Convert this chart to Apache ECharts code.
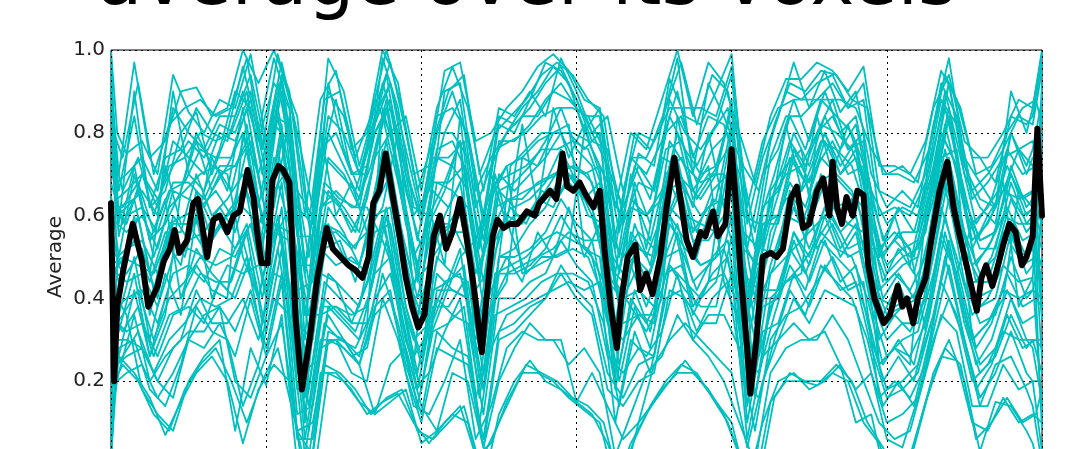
<!DOCTYPE html>
<html>
<head>
<meta charset="utf-8">
<script src="https://cdn.jsdelivr.net/npm/echarts@6/dist/echarts.min.js"></script>
<style>
  html, body { margin: 0; padding: 0; background: #fff; }
  #chart { width: 1088px; height: 449px; }
</style>
</head>
<body>
<div id="chart"></div>
<script>
// sample times of the first group of voxel traces
var sampleTimes = [0, 2,
  5, 10, 15, 20, 25, 30, 35, 40, 45, 50,
  55, 60, 65, 70, 75, 80, 85, 90, 95, 100,
  105, 110, 115, 120, 125, 130, 135, 140, 145, 150,
  155, 160, 165, 170, 175, 180, 185, 190, 195, 200,
  205, 210, 215, 220, 225, 230, 235, 240, 245, 250,
  255, 260, 265, 270, 275, 280, 285, 290, 295,
  297, 300];

// sample times of the second group
var sampleTimesB = [0,
  2.5, 7.5, 12.5, 17.5, 22.5, 27.5, 32.5, 37.5, 42.5, 47.5,
  52.5, 57.5, 62.5, 67.5, 72.5, 77.5, 82.5, 87.5, 92.5, 97.5,
  102.5, 107.5, 112.5, 117.5, 122.5, 127.5, 132.5, 137.5, 142.5, 147.5,
  152.5, 157.5, 162.5, 167.5, 172.5, 177.5, 182.5, 187.5, 192.5, 197.5,
  202.5, 207.5, 212.5, 217.5, 222.5, 227.5, 232.5, 237.5, 242.5, 247.5,
  252.5, 257.5, 262.5, 267.5, 272.5, 277.5, 282.5, 287.5, 292.5,
  297, 300];

// sample times of the third group
var sampleTimesC = [0,
  3.75, 8.75, 13.75, 18.75, 23.75, 28.75, 33.75, 38.75, 43.75, 48.75,
  53.75, 58.75, 63.75, 68.75, 73.75, 78.75, 83.75, 88.75, 93.75, 98.75,
  103.75, 108.75, 113.75, 118.75, 123.75, 128.75, 133.75, 138.75, 143.75, 148.75,
  153.75, 158.75, 163.75, 168.75, 173.75, 178.75, 183.75, 188.75, 193.75, 198.75,
  203.75, 208.75, 213.75, 218.75, 223.75, 228.75, 233.75, 238.75, 243.75, 248.75,
  253.75, 258.75, 263.75, 268.75, 273.75, 278.75, 283.75, 288.75, 293.75,
  298, 300];

// voxel traces, group A
var v01 = [1.0, .80, .75,.78,.70,.94,.85,.80,.88,.86,.99,.78, .97,.80,.62,.98,.90,.72,.86,.97,.80,.62, .80,.90,.78,.58,.82,.80,.88,.97,.95,.88, .78,.76,.60,.75,.72,.93,.84,.82,.90,.99, .58,.74,.84,.97,.86,.95,.85,.90,.70,.62, .66,.62,.82,.98,.74,.68,.62,.90,.80, .86, 1.0];
var v02 = [0.0, .30, .30,.28,.20,.16,.30,.36,.38,.20,.16,.26, .34,.08,.02,.30,.30,.24,.12,.24,.28,.14, .08,.22,.20,.04,.20,.28,.34,.30,.30,.15, .22,.14,.06,.10,.24,.30,.34,.30,.26,.22, .04,.20,.30,.34,.30,.32,.24,.18,.22,.06, .04,.16,.30,.40,.30,.14,.24,.26,.18, .14, 0.0];
var v03 = [.85, .64, .66,.70,.62,.78,.74,.70,.80,.78,.88,.70, .90,.55,.55,.80,.72,.64,.80,.86,.66,.52, .74,.72,.66,.44,.70,.66,.70,.74,.80,.72, .68,.52,.46,.52,.50,.72,.66,.60,.64,.82, .36,.58,.58,.74,.66,.78,.70,.76,.58,.48, .52,.54,.68,.86,.64,.54,.56,.72,.62, .64, .85];
var v04 = [.15, .34, .32,.34,.26,.36,.38,.34,.44,.40,.50,.32, .52,.12,.14,.38,.34,.30,.46,.50,.30,.18, .40,.36,.34,.12,.40,.40,.44,.46,.54,.48, .44,.26,.22,.28,.26,.48,.42,.38,.38,.55, .10,.32,.34,.46,.38,.48,.42,.44,.28,.16, .18,.22,.36,.54,.36,.24,.28,.40,.30, .28, .15];
var v05 = [.70, .68, .70,.74,.66,.86,.80,.76,.84,.84,.94,.76, .94,.66,.60,.90,.84,.70,.82,.92,.72,.58, .76,.78,.70,.50,.66,.62,.64,.68,.76,.68, .62,.44,.40,.42,.38,.60,.54,.48,.50,.66, .22,.40,.40,.54,.44,.54,.44,.48,.30,.18, .20,.24,.36,.52,.34,.22,.26,.36,.28, .30, .30];
var v06 = [.30, .20, .22,.24,.16,.22,.30,.28,.34,.26,.40,.26, .44,.06,.06,.32,.30,.26,.40,.46,.30,.18, .42,.42,.40,.18,.50,.52,.58,.62,.70,.66, .62,.48,.44,.52,.50,.72,.68,.64,.70,.86, .40,.62,.66,.80,.72,.84,.76,.82,.64,.52, .56,.56,.72,.92,.70,.62,.58,.80,.70, .74, .72];
var v07 = [.60, .58, .56,.60,.52,.66,.64,.62,.70,.72,.80,.60, .82,.42,.44,.66,.62,.56,.74,.80,.58,.44, .68,.66,.62,.38,.66,.68,.72,.78,.86,.76, .72,.56,.50,.56,.52,.78,.72,.68,.70,.88, .38,.60,.60,.76,.68,.80,.70,.74,.54,.44, .48,.50,.64,.84,.62,.52,.52,.68,.58, .60, .60];
var v08 = [.40, .38, .40,.42,.34,.46,.48,.44,.52,.50,.58,.42, .62,.22,.24,.46,.42,.38,.56,.58,.38,.26, .50,.46,.44,.22,.50,.50,.52,.56,.64,.58, .54,.36,.34,.36,.34,.58,.52,.48,.50,.66, .20,.42,.42,.56,.48,.60,.50,.56,.38,.26, .30,.32,.46,.64,.44,.34,.36,.50,.40, .42, .40];
var v09 = [.95, .46, .44,.46,.38,.50,.52,.50,.58,.62,.72,.56, .78,.48,.48,.74,.70,.62,.80,.88,.70,.60, .84,.86,.80,.60,.84,.82,.86,.92,.96,.88, .80,.72,.62,.72,.66,.84,.76,.70,.72,.86, .36,.52,.50,.62,.52,.62,.52,.58,.40,.30, .34,.34,.50,.70,.48,.38,.40,.56,.46, .48, .92];
var v10 = [.05, .50, .52,.54,.46,.58,.58,.52,.58,.52,.58,.40, .56,.18,.20,.36,.30,.24,.38,.42,.22,.10, .28,.26,.24,.04,.30,.32,.36,.40,.48,.42, .38,.22,.16,.24,.26,.48,.44,.40,.44,.60, .14,.38,.40,.56,.50,.62,.56,.60,.44,.34, .38,.40,.56,.74,.56,.46,.50,.64,.56, .58, .08];
var v11 = [.75, .60, .62,.66,.60,.90,.70,.66,.76,.90,.86,.66, .94,.84,.50,.92,.76,.66,.88,.80,.84,.66, .86,.96,.86,.66,.86,.84,.90,.84,.98,.90, .80,.84,.66,.80,.78,.86,.86,.86,.84,.96, .62,.78,.86,.88,.88,.88,.88,.86,.76,.70, .72,.68,.86,.94,.78,.74,.68,.84,.82, .84, .97];
var v12 = [.20, .40, .36,.18,.12,.08,.20,.26,.30,.08,.28,.19, .36,.00,-.05,.22,.20,.15,.12,.15,.18,.05, .08,.12,.10,-.05,.12,.20,.25,.20,.18,.15, .12,.05,-.05,.10,.15,.20,.25,.20,.15,.10, -.05,.10,.20,.22,.18,.20,.24,.10,.12,-.05, -.05,.08,.22,.30,.20,.03,.15,.14,.08, .05, -.05];
var v13 = [.55, .62, .60,.62,.56,.68,.68,.64,.72,.72,.78,.60, .80,.40,.40,.62,.56,.48,.60,.62,.38,.24, .46,.42,.40,.18,.46,.46,.48,.52,.60,.54, .50,.34,.30,.36,.36,.62,.58,.56,.60,.80, .34,.58,.60,.76,.68,.80,.72,.78,.58,.46, .50,.52,.66,.84,.64,.54,.56,.70,.60, .62, .55];
var v14 = [.45, .48, .46,.52,.40,.60,.54,.56,.62,.56,.70,.48, .68,.34,.30,.58,.50,.48,.62,.70,.46,.36, .56,.58,.50,.32,.56,.60,.60,.66,.72,.68, .60,.46,.40,.48,.42,.68,.60,.58,.56,.76, .28,.50,.52,.64,.58,.68,.58,.66,.46,.36, .38,.42,.54,.72,.52,.44,.44,.58,.50, .52, .45];
var v15 = [.90, .62, .58,.70,.64,.72,.78,.74,.82,.80,.90,.74, .92,.62,.58,.84,.80,.70,.84,.92,.76,.60, .80,.80,.74,.54,.78,.78,.82,.88,.92,.86, .76,.68,.58,.68,.66,.88,.80,.76,.82,.94, .52,.70,.76,.88,.78,.90,.80,.84,.66,.58, .62,.60,.76,.92,.72,.64,.62,.80,.72, .76, .88];
var v16 = [.10, .24, .26,.28,.20,.28,.32,.32,.38,.32,.42,.28, .46,.08,.10,.30,.28,.24,.36,.40,.24,.12, .32,.28,.26,.06,.32,.34,.38,.40,.46,.40, .36,.18,.14,.20,.22,.42,.40,.34,.34,.46, .06,.26,.30,.40,.34,.42,.40,.38,.22,.10, .12,.16,.32,.48,.30,.16,.22,.32,.22, .20, .20];

// voxel traces, group B
var w01 = [.98, .58,.90,.62,.66,.80,.85,.70,.80,.96,.80, .98,.86,.48,.72,.88,.70,.70,.98,.86,.62, .60,.90,.92,.66,.74,.80,.86,.90,.96,.92, .80,.86,.55,.74,.74,.82,.98,.70,.92,.84, .74,.56,.78,.90,.88,.92,.94,.86,.92,.66, .64,.62,.70,.92,.84,.66,.70,.76,.84, .82, .95];
var w02 = [.02, .28,.30,.18,.14,.24,.38,.32,.30,.14,.24, .40,.36,.02,.28,.30,.22,.20,.40,.30,.14, .12,.20,.30,.06,.14,.28,.32,.30,.30,.24, .28,.22,.02,.12,.22,.26,.36,.30,.26,.20, .10,.00,.22,.28,.30,.30,.36,.30,.20,.10, .06,.08,.22,.36,.32,.14,.14,.24,.18, .20, .03];
var w03 = [.80, .55,.72,.54,.64,.40,.48,.42,.40,.80,.70, .84,.82,.36,.36,.38,.34,.34,.86,.72,.52, .30,.40,.50,.54,.66,.72,.46,.48,.50,.52, .80,.80,.44,.38,.32,.40,.84,.66,.72,.44, .34,.40,.66,.72,.76,.52,.58,.50,.52,.52, .56,.52,.32,.54,.46,.58,.62,.68,.38, .45, .80];
var w04 = [.20, .26,.42,.26,.36,.66,.80,.72,.70,.50,.40, .56,.54,.10,.62,.66,.62,.62,.54,.44,.24, .60,.68,.78,.26,.38,.44,.74,.78,.80,.82, .52,.50,.20,.64,.60,.66,.54,.36,.44,.70, .66,.16,.38,.44,.46,.80,.88,.76,.80,.24, .28,.24,.60,.80,.72,.30,.34,.40,.66, .62, .25];
var w05 = [.50, .44,.60,.36,.54,.48,.66,.54,.60,.62,.58, .66,.72,.20,.52,.48,.50,.46,.74,.54,.40, .42,.56,.60,.42,.48,.60,.58,.64,.62,.70, .64,.68,.28,.54,.44,.56,.66,.54,.54,.60, .48,.30,.48,.60,.58,.68,.70,.66,.62,.40, .38,.40,.42,.70,.56,.44,.44,.56,.50, .52, .65];
var w06 = [.65, .50,.70,.54,.58,.66,.78,.66,.72,.80,.62, .82,.78,.36,.62,.64,.56,.64,.84,.68,.50, .58,.66,.78,.50,.64,.72,.74,.72,.80,.80, .76,.80,.42,.62,.60,.64,.80,.64,.70,.70, .62,.40,.64,.70,.72,.80,.84,.76,.78,.50, .54,.50,.56,.80,.72,.54,.58,.66,.64, .66, .35];
var w07 = [.35, .32,.46,.26,.40,.40,.52,.46,.42,.54,.40, .58,.56,.12,.38,.38,.36,.38,.58,.44,.26, .32,.42,.52,.26,.38,.46,.48,.50,.52,.56, .54,.54,.18,.40,.34,.42,.56,.38,.44,.46, .38,.16,.40,.44,.48,.54,.60,.52,.54,.24, .28,.26,.34,.56,.46,.30,.34,.42,.40, .42, .50];
var w08 = [.92, .70,.97,.74,.78,.90,.91,.84,.86,1.0,.92, 1.0,.90,.60,.88,.95,.76,.80,1.0,.92,.70, .72,.95,.97,.78,.80,.86,.90,.96,.99,.95, .88,.86,.62,.80,.76,.88,1.0,.84,.97,.92, .80,.68,.84,.93,.93,.97,.95,.90,.96,.72, .72,.70,.78,.95,.88,.74,.74,.80,.88, .86, .99];
var w09 = [.08, .26,.22,.16,.07,.15,.22,.26,.20,.05,.18, .24,.20,-.05,.22,.22,.18,.12,.15,.17,.10, .05,.10,.14,.02,.05,.15,.22,.22,.20,.16, .13,.10,-.05,.05,.12,.18,.22,.22,.18,.12, .02,-.05,.15,.20,.20,.19,.22,.20,.10,.05, -.05,.02,.15,.26,.25,.10,.08,.16,.10, .12, .10];
var w10 = [.72, .62,.64,.46,.72,.58,.58,.74,.66,.86,.58, .62,.84,.30,.80,.60,.68,.56,.62,.80,.42, .62,.48,.84,.50,.70,.58,.82,.62,.86,.74, .82,.70,.46,.70,.52,.74,.72,.62,.80,.62, .56,.48,.60,.82,.66,.84,.70,.82,.70,.50, .60,.48,.66,.74,.76,.52,.60,.66,.76, .72, .77];
var w11 = [.28, .36,.50,.30,.46,.36,.60,.40,.48,.46,.48, .54,.62,.16,.46,.44,.34,.44,.60,.42,.30, .34,.44,.46,.30,.42,.50,.44,.56,.50,.62, .50,.58,.22,.48,.38,.48,.58,.44,.48,.52, .40,.22,.46,.50,.54,.58,.62,.58,.56,.30, .36,.32,.40,.62,.50,.36,.40,.48,.44, .45, .12];
var w12 = [.58, .48,.54,.44,.56,.56,.70,.60,.64,.70,.50, .74,.66,.26,.56,.56,.52,.56,.76,.60,.44, .48,.60,.68,.46,.56,.64,.64,.68,.70,.72, .70,.72,.34,.56,.50,.60,.74,.56,.62,.64, .56,.34,.56,.64,.66,.72,.78,.70,.72,.42, .46,.42,.50,.74,.62,.48,.52,.60,.58, .58, .42];
var w13 = [.88, .66,.84,.62,.74,.76,.86,.80,.78,.90,.78, .92,.86,.46,.76,.80,.70,.72,.92,.80,.60, .66,.80,.88,.62,.72,.80,.84,.84,.90,.88, .84,.84,.52,.74,.70,.78,.90,.74,.84,.82, .70,.52,.74,.84,.84,.88,.92,.86,.88,.60, .62,.60,.68,.88,.82,.64,.68,.74,.76, .78, .70];
var w14 = [.12, .22,.36,.20,.26,.30,.42,.34,.34,.40,.30, .46,.44,.06,.30,.30,.26,.28,.46,.34,.18, .22,.32,.40,.16,.28,.36,.38,.40,.42,.44, .42,.44,.10,.30,.26,.32,.46,.30,.36,.36, .28,.08,.30,.36,.38,.44,.50,.42,.44,.16, .20,.16,.24,.44,.36,.20,.24,.32,.30, .30, .22];

// voxel traces, group C
var u01 = [.68, .58,.66,.50,.62,.66,.70,.72,.66,.82,.58, .84,.62,.40,.66,.62,.56,.70,.86,.64,.44, .66,.62,.70,.44,.68,.70,.72,.76,.76,.78, .76,.66,.46,.64,.54,.70,.74,.64,.70,.76, .52,.48,.62,.74,.68,.78,.76,.72,.60,.44, .52,.46,.62,.82,.66,.48,.54,.66,.60, .62, .58];
var u02 = [.32, .36,.42,.30,.40,.44,.50,.48,.50,.58,.40, .60,.38,.18,.44,.40,.36,.46,.62,.40,.22, .42,.44,.48,.20,.46,.48,.50,.54,.56,.54, .52,.44,.24,.42,.32,.50,.52,.42,.50,.54, .30,.26,.40,.52,.46,.56,.52,.50,.40,.24, .30,.24,.40,.60,.44,.28,.34,.46,.38, .40, .38];
var u03 = [.78, .66,.74,.60,.72,.74,.80,.78,.80,.90,.70, .92,.72,.50,.74,.70,.66,.78,.94,.72,.54, .74,.74,.78,.52,.76,.78,.80,.84,.86,.86, .84,.76,.56,.72,.64,.80,.84,.72,.80,.86, .60,.58,.70,.84,.76,.88,.84,.80,.70,.54, .62,.56,.70,.90,.74,.58,.64,.76,.70, .72, .75];
var u04 = [.22, .26,.32,.22,.30,.34,.40,.38,.40,.50,.30, .52,.30,.08,.34,.30,.28,.36,.54,.32,.14, .32,.34,.38,.10,.36,.38,.40,.44,.46,.46, .44,.34,.14,.32,.22,.40,.42,.32,.40,.44, .20,.16,.30,.42,.36,.48,.44,.40,.30,.14, .20,.14,.30,.50,.34,.18,.24,.36,.28, .30, .28];
var u05 = [.48, .50,.48,.46,.56,.50,.64,.56,.62,.66,.54, .68,.54,.32,.52,.54,.44,.60,.72,.54,.36, .50,.56,.56,.34,.54,.62,.58,.66,.64,.70, .60,.58,.38,.50,.46,.58,.66,.50,.64,.62, .44,.40,.48,.66,.54,.70,.62,.64,.48,.36, .44,.34,.54,.68,.56,.40,.42,.58,.48, .50, .48];
var u06 = [.62, .62,.68,.56,.66,.68,.76,.74,.74,.86,.64, .86,.66,.44,.68,.64,.62,.72,.88,.66,.48, .68,.68,.72,.46,.70,.56,.46,.50,.50,.52, .50,.40,.20,.38,.28,.46,.48,.38,.46,.50, .26,.22,.36,.48,.42,.54,.50,.46,.36,.20, .26,.20,.36,.56,.40,.24,.30,.42,.34, .36, .65];
var u07 = [.36, .32,.38,.26,.36,.38,.46,.44,.44,.56,.34, .58,.36,.14,.40,.36,.32,.42,.60,.36,.18, .38,.38,.44,.16,.42,.72,.76,.80,.80,.80, .78,.70,.50,.68,.58,.76,.78,.68,.76,.80, .56,.52,.66,.78,.72,.82,.80,.76,.66,.50, .56,.50,.66,.86,.70,.54,.60,.72,.64, .66, .35];
var u08 = [.82, .74,.92,.70,.82,.86,.88,.84,.86,.98,.76, .99,.84,.58,.88,.90,.74,.84,1.0,.86,.66, .78,.90,.94,.70,.80,.84,.88,.94,.97,.94, .88,.84,.60,.80,.76,.86,.97,.82,.94,.90, .72,.66,.82,.92,.90,.95,.94,.88,.86,.70, .70,.68,.76,.94,.86,.70,.72,.80,.86, .88, .82];
var u09 = [.18, .24,.20,.12,.08,.18,.24,.28,.20,.10,.20, .28,.12,-.04,.24,.22,.18,.12,.16,.18,.08, .06,.10,.14,.00,.08,.16,.24,.22,.20,.16, .14,.10,-.04,.06,.14,.20,.24,.22,.16,.10, .00,-.04,.16,.22,.20,.20,.24,.20,.10,.04, -.04,.04,.18,.28,.24,.06,.10,.16,.10, .12, .18];
var u10 = [.52, .48,.60,.42,.58,.60,.62,.66,.60,.76,.52, .76,.56,.36,.58,.56,.52,.62,.78,.56,.40, .58,.58,.64,.36,.62,.64,.66,.68,.70,.72, .70,.60,.40,.58,.48,.66,.68,.56,.66,.70, .46,.42,.56,.68,.62,.74,.70,.66,.56,.40, .46,.40,.56,.76,.60,.44,.50,.62,.54, .56, .52];

var groupA = [v01, v02, v03, v04, v05, v06, v07, v08, v09, v10, v11, v12, v13, v14, v15, v16];
var groupB = [w01, w02, w03, w04, w05, w06, w07, w08, w09, w10, w11, w12, w13, w14];
var groupC = [u01, u02, u03, u04, u05, u06, u07, u08, u09, u10];

// average over the voxels (black), [time, value]
var averageLine = [
  [0,.63],[1,.20],[2,.38],[4,.47],[7,.58],[10,.49],[12,.38],[15,.43],[17,.49],[19,.52],
  [20.5,.565],[22,.51],[24.5,.54],[26.5,.63],[28,.64],[31,.50],[33,.59],[35,.60],[37.5,.56],[39.5,.60],
  [41.5,.61],[44,.71],[46,.64],[47,.565],[48.5,.485],[50.5,.485],[52,.685],[54,.72],[55.5,.71],[57.5,.68],
  [59.5,.35],[61.5,.18],[64,.30],[66.5,.45],[69.5,.57],[71.5,.52],[74,.50],[76.5,.48],[78.5,.47],[81,.45],
  [83,.50],[84.5,.63],[86.5,.66],[88.5,.75],[90.5,.66],[93,.55],[95,.45],[97,.38],[99,.33],[101,.36],
  [104,.55],[106,.60],[108,.52],[110,.56],[112.5,.64],[114.5,.55],[116.5,.45],[118.5,.33],[119.5,.27],[121,.40],
  [123,.55],[124.5,.59],[126.5,.57],[128.5,.58],[131,.58],[134,.61],[136.5,.60],[138,.63],[141.5,.66],[143.5,.64],
  [145.5,.75],[147,.67],[149,.66],[151,.68],[153,.65],[155.5,.62],[157.5,.66],[159,.52],[161,.38],[163,.28],
  [164.5,.40],[166.5,.50],[169,.53],[170.5,.42],[172.5,.46],[174.5,.41],[177,.50],[179,.62],[181.5,.74],[183.5,.64],
  [185.5,.54],[187.5,.50],[190,.56],[191.5,.55],[194,.61],[195.5,.55],[198,.58],[200,.76],[201.5,.62],[203,.45],
  [205,.28],[206,.17],[208,.30],[210,.50],[212.5,.51],[214.5,.50],[216.5,.52],[219,.64],[221,.67],[223,.57],
  [225,.58],[227.5,.66],[229.5,.69],[231.5,.60],[232.5,.73],[234,.62],[235.5,.58],[237,.645],[239,.60],[240.5,.66],
  [242.5,.65],[244,.48],[246,.40],[248,.36],[249,.34],[251,.36],[253.5,.43],[255,.38],[256.5,.40],[258.5,.34],
  [260,.40],[262.5,.45],[264.5,.55],[267,.66],[269.5,.73],[271.5,.62],[273.5,.55],[276,.47],[277.5,.42],[279,.37],
  [280.5,.45],[282,.48],[284,.43],[285.5,.47],[287.5,.53],[289.5,.58],[291.5,.56],[293.5,.48],[295,.50],[297,.55],
  [298.5,.81],[300,.60]
];

var yTicks = [0, 0.2, 0.4, 0.6, 0.8, 1.0];

var chart = echarts.init(document.getElementById('chart'), null, { renderer: 'canvas' });

function voxelSeries(times, vals) {
  var pts = [];
  for (var j = 0; j < times.length; j++) {
    pts.push([times[j], vals[j]]);
  }
  return {
    type: 'line',
    data: pts,
    symbol: 'none',
    silent: true,
    lineStyle: { color: '#00bfbf', width: 1.8, join: 'round' },
    z: 2
  };
}

var series = [];
for (var i = 0; i < groupA.length; i++) series.push(voxelSeries(sampleTimes, groupA[i]));
for (var k = 0; k < groupB.length; k++) series.push(voxelSeries(sampleTimesB, groupB[k]));
for (var m = 0; m < groupC.length; m++) series.push(voxelSeries(sampleTimesC, groupC[m]));
series.push({
  type: 'line',
  data: averageLine,
  symbol: 'none',
  silent: true,
  lineStyle: { color: '#000', width: 6, join: 'round', cap: 'round' },
  z: 3
});

var option = {
  animation: false,
  backgroundColor: '#fff',
  title: {
    text: 'average over its voxels',
    left: 97,
    top: -52,
    padding: 0,
    textStyle: { fontFamily: 'DejaVu Sans', fontSize: 74, fontWeight: 'normal', color: '#000' }
  },
  grid: {
    left: 111, top: 50, width: 931, height: 414,
    outerBoundsMode: 'none',
    containLabel: false,
    show: true, borderColor: '#000', borderWidth: 1, backgroundColor: 'transparent'
  },
  xAxis: {
    type: 'value', min: 0, max: 300, interval: 50,
    z: 5,
    axisLine: { show: false },
    axisTick: { show: false },
    axisLabel: { show: false },
    splitLine: { show: true, lineStyle: { color: '#000', width: 1, type: [2, 4] } }
  },
  yAxis: {
    type: 'value', min: yTicks[0], max: yTicks[yTicks.length - 1], interval: 0.2,
    z: 5,
    name: 'Average',
    nameLocation: 'middle',
    nameGap: 45,
    nameMoveOverlap: false,
    nameTextStyle: { fontFamily: 'DejaVu Sans', fontSize: 20, color: '#222' },
    axisLine: { show: false },
    axisTick: { show: false },
    axisLabel: {
      fontFamily: 'DejaVu Sans', fontSize: 20, color: '#222', margin: 6,
      formatter: function (v) { return v.toFixed(1); }
    },
    splitLine: { show: true, lineStyle: { color: '#000', width: 1, type: [2, 4] } }
  },
  series: series
};
chart.setOption(option);
</script>
</body>
</html>
